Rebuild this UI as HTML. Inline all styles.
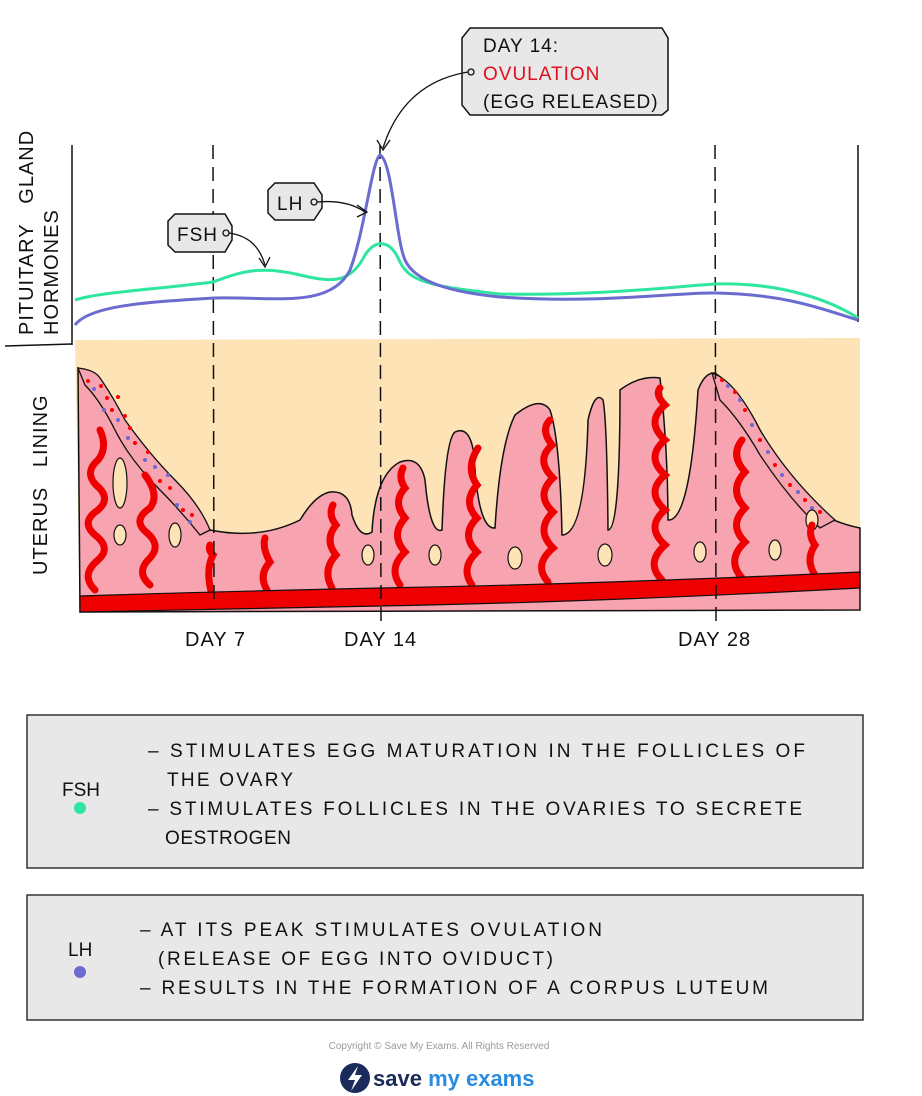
<!DOCTYPE html>
<html><head><meta charset="utf-8"><style>
body{margin:0;background:#fff;width:922px;height:1096px;overflow:hidden;font-family:"Liberation Sans",sans-serif}
svg{position:absolute;left:0;top:0}
</style></head><body>
<svg width="922" height="1096" viewBox="0 0 922 1096" font-family="Liberation Sans, sans-serif">
<polygon points="75,340 860,338 860,610 80,612" fill="#fde3b5"/>
<path d="M80,612 L78,368 Q90,372 100,380 Q115,400 125,425 Q140,450 165,475 Q190,505 210,530 Q260,540 300,520 Q315,495 330,492 Q350,490 352,515 Q360,540 372,532 Q375,475 400,462 Q420,455 425,480 Q430,535 442,530 Q445,440 455,432 Q470,425 474,455 Q478,530 495,528 Q500,445 515,415 Q540,395 550,410 Q560,440 562,535 Q585,535 588,420 Q595,390 603,400 Q607,420 608,530 Q620,530 620,390 Q640,375 660,378 Q668,450 668,520 Q690,522 698,390 Q705,372 715,373 Q740,390 760,430 Q780,465 800,495 Q820,520 860,528 L860,610 Z" fill="#f7a3b0" stroke="#111" stroke-width="1.5"/>
<path d="M78,368 Q95,370 100,378 Q112,395 125,420 Q150,455 175,480 Q200,505 210,530 L200,535 Q180,510 160,490 Q130,460 115,430 Q100,400 85,385 Z" fill="#f7a3b0" stroke="#111" stroke-width="1.3"/>
<path d="M712,373 Q735,380 760,430 Q790,480 835,520 L820,528 Q790,500 760,455 Q740,420 720,400 Z" fill="#f7a3b0" stroke="#111" stroke-width="1.3"/>
<g fill="#f00">
<circle cx="88" cy="381" r="2"/><circle cx="101" cy="386" r="2"/><circle cx="107" cy="398" r="2"/><circle cx="118" cy="397" r="2"/><circle cx="112" cy="410" r="2"/><circle cx="125" cy="416" r="2"/><circle cx="130" cy="428" r="2"/><circle cx="135" cy="443" r="2"/><circle cx="148" cy="452" r="2"/><circle cx="160" cy="481" r="2"/><circle cx="170" cy="488" r="2"/><circle cx="183" cy="510" r="2"/><circle cx="192" cy="515" r="2"/>
<circle cx="722" cy="380" r="2"/><circle cx="735" cy="392" r="2"/><circle cx="745" cy="410" r="2"/><circle cx="760" cy="440" r="2"/><circle cx="775" cy="465" r="2"/><circle cx="790" cy="485" r="2"/><circle cx="805" cy="500" r="2"/><circle cx="820" cy="512" r="2"/>
</g>
<g fill="#6b6bd0">
<circle cx="94" cy="389" r="2"/><circle cx="104" cy="410" r="2"/><circle cx="118" cy="420" r="2"/><circle cx="128" cy="438" r="2"/><circle cx="145" cy="460" r="2"/><circle cx="155" cy="467" r="2"/><circle cx="168" cy="475" r="2"/><circle cx="177" cy="505" r="2"/><circle cx="190" cy="522" r="2"/><circle cx="175" cy="525" r="2"/>
<circle cx="728" cy="386" r="2"/><circle cx="740" cy="400" r="2"/><circle cx="752" cy="425" r="2"/><circle cx="768" cy="452" r="2"/><circle cx="782" cy="475" r="2"/><circle cx="798" cy="492" r="2"/><circle cx="812" cy="508" r="2"/>
</g>
<g fill="#fde3b5" stroke="#111" stroke-width="1.2">
<ellipse cx="120" cy="483" rx="7" ry="25"/><ellipse cx="120" cy="535" rx="6" ry="10"/><ellipse cx="175" cy="535" rx="6" ry="12"/><ellipse cx="368" cy="555" rx="6" ry="10"/><ellipse cx="435" cy="555" rx="6" ry="10"/><ellipse cx="515" cy="558" rx="7" ry="11"/><ellipse cx="605" cy="555" rx="7" ry="11"/><ellipse cx="700" cy="552" rx="6" ry="10"/><ellipse cx="775" cy="550" rx="6" ry="10"/><ellipse cx="812" cy="520" rx="6" ry="10"/>
</g>
<g fill="none" stroke="#e00" stroke-width="7" stroke-linecap="round">
<path d="M95,590 Q80,575 98,560 Q112,548 95,535 Q80,522 98,510 Q112,498 96,485 Q84,472 98,460 Q108,448 100,430"/>
<path d="M150,585 Q135,572 150,558 Q162,545 146,532 Q132,520 150,508 Q160,495 145,475"/>
<path d="M212,595 Q205,570 213,555 Q208,550 210,545"/>
<path d="M267,590 Q258,575 270,562 Q262,548 265,538"/>
<path d="M332,588 Q322,570 336,555 Q324,540 336,525 Q328,515 333,505"/>
<path d="M400,585 Q388,568 405,552 Q390,535 405,518 Q392,502 405,488 Q398,478 403,468"/>
<path d="M472,585 Q460,568 477,552 Q460,535 477,518 Q462,502 477,485 Q465,468 478,448"/>
<path d="M548,582 Q533,565 553,548 Q535,530 553,512 Q535,495 553,478 Q535,460 552,445 Q540,430 550,420"/>
<path d="M662,580 Q645,563 665,545 Q645,527 665,510 Q645,492 665,475 Q645,457 665,440 Q645,422 665,405 Q655,395 660,388"/>
<path d="M742,578 Q726,560 745,542 Q728,525 745,508 Q728,490 745,472 Q730,455 742,440"/>
<path d="M815,575 Q805,560 815,545 Q808,535 812,525"/>
</g>
<path d="M80,596 Q200,592 380,588 Q600,584 860,572 L860,588 Q600,602 380,606 Q200,610 80,612 Z" fill="#e00" stroke="#111" stroke-width="1.2"/>
<g stroke="#111" stroke-width="1.5" fill="none">
<line x1="72" y1="145" x2="72" y2="345"/><line x1="5" y1="346" x2="72" y2="344"/>
<line x1="858" y1="145" x2="858" y2="322"/>
<line x1="213" y1="145" x2="214" y2="605" stroke-dasharray="14,8"/>
<line x1="380" y1="145" x2="381" y2="622" stroke-dasharray="14,8"/>
<line x1="715" y1="145" x2="716" y2="622" stroke-dasharray="14,8"/>
</g>
<path d="M75,300 C100,292 150,290 213,282 C240,272 260,265 300,275 C330,282 350,285 365,255 C375,240 390,238 400,262 C410,282 430,286 500,294 C600,296 680,286 715,284 C780,282 830,300 858,318" fill="none" stroke="#2ee6a0" stroke-width="3"/>
<path d="M75,325 C90,305 150,302 213,298 C270,296 330,310 350,270 C365,230 372,160 380,155 C392,160 396,240 405,260 C415,282 450,292 500,297 C600,304 680,292 715,293 C790,294 830,312 858,320" fill="none" stroke="#6b6bd0" stroke-width="3"/>
<g font-size="20" fill="#111" letter-spacing="1">
<text transform="translate(33,335) rotate(-90)">PITUITARY&#160;&#160;&#160;GLAND</text>
<text transform="translate(58,335) rotate(-90)">HORMONES</text>
<text transform="translate(47,575) rotate(-90)">UTERUS&#160;&#160;&#160;LINING</text>
<text x="185" y="646">DAY 7</text><text x="344" y="646">DAY 14</text><text x="678" y="646">DAY 28</text>
</g>
<g stroke="#111" stroke-width="1.5" fill="#e8e8e8">
<path d="M470,28 L662,28 L668,38 L668,110 L662,115 L470,115 L462,105 L462,38 Z"/>
<path d="M175,214 L225,214 L232,226 L232,240 L225,252 L175,252 L168,245 L168,221 Z"/>
<path d="M275,183 L314,183 L322,195 L322,208 L314,220 L275,220 L268,213 L268,190 Z"/>
</g>
<g fill="none" stroke="#111" stroke-width="1.3">
<circle cx="471" cy="72" r="3"/><circle cx="226" cy="233" r="3"/><circle cx="314" cy="202" r="3"/>
<path d="M468,72 C420,80 395,110 383,148"/><path d="M377,140 L383,150 L390,140"/>
<path d="M229,233 C250,236 260,248 265,265"/><path d="M259,258 L265,267 L270,257"/>
<path d="M317,202 C340,200 355,205 365,212"/><path d="M357,205 L367,212 L357,217"/>
</g>
<g font-size="19" fill="#111" letter-spacing="1">
<text x="483" y="52">DAY 14:</text><text x="483" y="80" fill="#e0101e">OVULATION</text><text x="483" y="108">(EGG RELEASED)</text>
<text x="177" y="241">FSH</text><text x="277" y="210">LH</text>
</g>
<rect x="27" y="715" width="836" height="153" fill="#e8e8e8" stroke="#333" stroke-width="1.5"/>
<rect x="27" y="895" width="836" height="125" fill="#e8e8e8" stroke="#333" stroke-width="1.5"/>
<g font-size="19" fill="#111">
<text x="62" y="796">FSH</text><circle cx="80" cy="808" r="6" fill="#2ee6a0"/>
<text x="148" y="757" textLength="657" lengthAdjust="spacing">– STIMULATES  EGG  MATURATION  IN  THE  FOLLICLES  OF</text>
<text x="167" y="786" textLength="126" lengthAdjust="spacing">THE  OVARY</text>
<text x="148" y="815" textLength="654" lengthAdjust="spacing">– STIMULATES  FOLLICLES  IN  THE  OVARIES  TO  SECRETE</text>
<text x="165" y="844" textLength="126" lengthAdjust="spacing">OESTROGEN</text>
<text x="68" y="956">LH</text><circle cx="80" cy="972" r="6" fill="#6b6bd0"/>
<text x="140" y="936" textLength="462" lengthAdjust="spacing">– AT  ITS  PEAK  STIMULATES  OVULATION</text>
<text x="158" y="965" textLength="395" lengthAdjust="spacing">(RELEASE  OF  EGG  INTO  OVIDUCT)</text>
<text x="140" y="994" textLength="628" lengthAdjust="spacing">– RESULTS  IN  THE  FORMATION  OF  A  CORPUS  LUTEUM</text>
</g>
<text x="439" y="1049" font-size="10" fill="#999" text-anchor="middle">Copyright © Save My Exams. All Rights Reserved</text>
<circle cx="355" cy="1078" r="15" fill="#1a2a5a"/>
<path d="M358,1066 L348,1080 L355,1080 L351,1091 L362,1075 L355,1075 Z" fill="#fff"/>
<text x="373" y="1086" font-size="22" font-weight="bold" fill="#1a2a5a">save <tspan fill="#2a8ce0">my exams</tspan></text>
</svg>
</body></html>
